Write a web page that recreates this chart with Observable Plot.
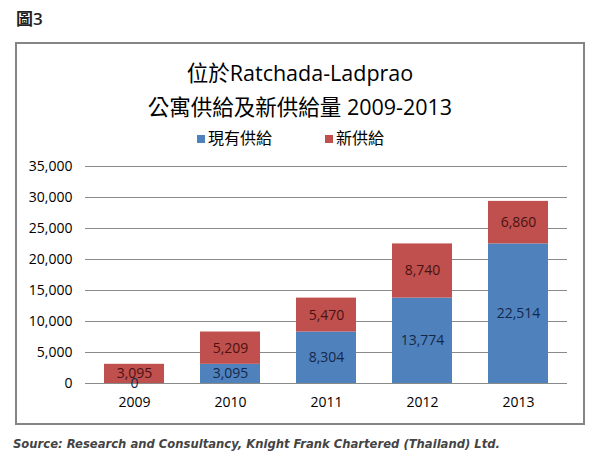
<!DOCTYPE html>
<html>
<head>
<meta charset="utf-8">
<script src="https://cdn.jsdelivr.net/npm/d3@7"></script>
<script src="https://cdn.jsdelivr.net/npm/@observablehq/plot@0.6"></script>
<style>
  html, body { margin: 0; padding: 0; background: #fff; }
  body { width: 600px; height: 468px; position: relative; overflow: hidden;
         font-family: "Open Sans", "Noto Sans CJK TC", sans-serif; color: #000; }
  #fig { position: absolute; left: 16px; top: 8px; font-size: 17px; font-weight: 600;
         font-family: "Open Sans", "Noto Sans CJK TC", sans-serif; color: #222; line-height: 22px; }
  #box { position: absolute; left: 15px; top: 42px; width: 570px; height: 383px;
         box-sizing: border-box; border: 2px solid #858585; }
  .title { position: absolute; left: 0; width: 600px; text-align: center; font-size: 21.5px;
           font-family: "Open Sans", "Noto Sans CJK TC", sans-serif; line-height: 1; }
  #t1 { top: 62px; }
  #t2 { top: 96px; }
  #legend { position: absolute; left: 197px; top: 127px; white-space: nowrap;
            font-size: 16px; font-family: "Noto Sans CJK TC", sans-serif; line-height: 20px; }
  #legend span.item { display: inline-block; margin-right: 53px; }
  #legend span.sw { display: inline-block; width: 8px; height: 8px; margin-right: 3px; vertical-align: 1px; }
  #chart { position: absolute; left: 17px; top: 150px; }
  #source { position: absolute; left: 13px; top: 437px; font-size: 11.6px; font-weight: bold;
            font-style: italic; font-family: "DejaVu Sans", sans-serif; color: #444; }
</style>
</head>
<body>
<div id="fig">圖3</div>
<div id="box"></div>
<div class="title" id="t1">位於Ratchada-Ladprao</div>
<div class="title" id="t2">公寓供給及新供給量 2009-2013</div>
<div id="legend"></div>
<div id="chart"></div>
<div id="source">Source: Research and Consultancy, Knight Frank Chartered (Thailand) Ltd.</div>
<script>
const years = ["2009", "2010", "2011", "2012", "2013"];
const existingSupply = [0, 3095, 8304, 13774, 22514];
const newSupply = [3095, 5209, 5470, 8740, 6860];
const seriesNames = ["現有供給", "新供給"];
const seriesColors = ["#4F81BD", "#C0504D"];
const labelColors = ["#14284a", "#4a1212"];
const yTicks = [0, 5000, 10000, 15000, 20000, 25000, 30000, 35000];

const rows = [];
years.forEach((y, i) => {
  rows.push({year: y, series: seriesNames[0], value: existingSupply[i]});
  rows.push({year: y, series: seriesNames[1], value: newSupply[i]});
});

// legend
const legend = document.getElementById("legend");
seriesNames.forEach((name, i) => {
  const item = document.createElement("span");
  item.className = "item";
  const sw = document.createElement("span");
  sw.className = "sw";
  sw.style.background = seriesColors[i];
  item.appendChild(sw);
  item.appendChild(document.createTextNode(name));
  legend.appendChild(item);
});

const fmt = d3.format(",");

const chart = Plot.plot({
  width: 566,
  height: 265,
  marginLeft: 68,
  marginRight: 16,
  marginTop: 16,
  marginBottom: 32,
  style: {fontFamily: "Open Sans, sans-serif", fontSize: "14px", background: "transparent", color: "#000"},
  x: {domain: years, paddingInner: 0.37, paddingOuter: 0.185, label: null},
  y: {domain: [0, 35000], label: null},
  color: {domain: seriesNames, range: seriesColors},
  marks: [
    Plot.ruleY(yTicks, {stroke: "#8a8a8a", strokeWidth: 1}),
    Plot.barY(rows, {x: "year", y: "value", z: "series", fill: "series"}),
    Plot.text(rows, Plot.stackY({
      x: "year", y: "value", z: "series",
      text: d => fmt(d.value),
      fill: d => labelColors[seriesNames.indexOf(d.series)],
      fontSize: 14
    })),
    Plot.axisY({ticks: yTicks, tickSize: 0, tickPadding: 13, tickFormat: fmt, fontSize: 14, fill: "#000"}),
    Plot.axisX({tickSize: 0, tickPadding: 14, fontSize: 14, fill: "#000"})
  ]
});
document.getElementById("chart").appendChild(chart);
</script>
</body>
</html>
